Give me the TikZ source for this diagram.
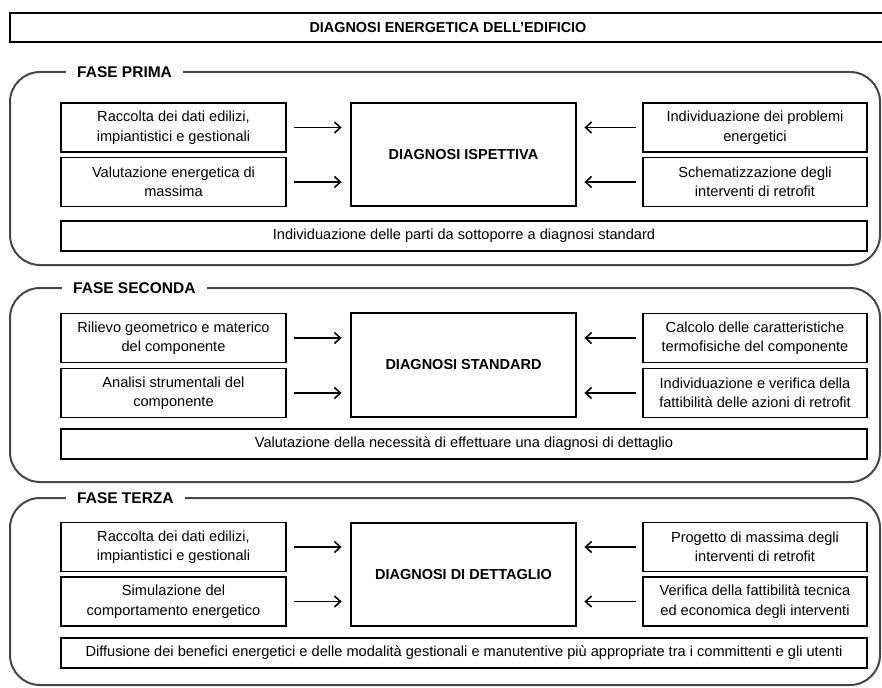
\documentclass[tikz,border=0pt]{standalone}
\usepackage{fontspec}
\setmainfont{Liberation Sans}
\usetikzlibrary{arrows.meta}
\begin{document}
\begin{tikzpicture}[x=1pt,y=-1pt,
  sbox/.style={draw, line width=1.4pt, align=center, inner sep=0pt,
    font=\fontsize{14.6}{19.5}\selectfont},
  lbox/.style={sbox, minimum width=225pt, minimum height=49pt},
  rbox/.style={sbox, minimum width=224pt, minimum height=49pt},
  wbox/.style={sbox, minimum width=806pt, minimum height=30pt},
  cbox/.style={draw, line width=2.8pt, inner sep=0pt, minimum width=225pt,
    minimum height=103pt, font=\fontsize{14.5}{17}\selectfont\bfseries},
  panel/.style={draw=black!72, line width=2pt, rounded corners=30pt},
  plabel/.style={fill=white, anchor=west, inner xsep=11pt, inner ysep=2pt,
    font=\fontsize{15.5}{18}\selectfont\bfseries},
  arr/.style={line width=1.6pt, -{Straight Barb[length=6pt,width=11pt]}},
]
\useasboundingbox (0,0) rectangle (882,687);

% title
\draw[line width=2pt] (10,13) rectangle (892,42);
\node[font=\fontsize{14.4}{17}\selectfont\bfseries] (title) at (448,27.5) {DIAGNOSI ENERGETICA DELL'EDIFICIO};

% ---------------- FASE PRIMA ----------------
\draw[panel] (10,72) rectangle (880,265);
\node[plabel] (p1lab) at (66,72) {FASE PRIMA};
\node[lbox] (p1a) at (173.5,127.5) {Raccolta dei dati edilizi,\\impiantistici e gestionali};
\node[lbox] (p1b) at (173.5,182) {Valutazione energetica di\\massima};
\node[cbox] (p1c) at (463.5,154.5) {DIAGNOSI ISPETTIVA};
\node[rbox] (p1d) at (755,127.5) {Individuazione dei problemi\\energetici};
\node[rbox] (p1e) at (755,182) {Schematizzazione degli\\interventi di retrofit};
\node[wbox] (p1f) at (464,236) {Individuazione delle parti da sottoporre a diagnosi standard};
\draw[arr, shorten <=7pt, shorten >=8pt] (p1a.east) -- (p1a.east -| p1c.west);
\draw[arr, shorten <=7pt, shorten >=8pt] (p1b.east) -- (p1b.east -| p1c.west);
\draw[arr, shorten <=6pt, shorten >=7pt] (p1d.west) -- (p1d.west -| p1c.east);
\draw[arr, shorten <=6pt, shorten >=7pt] (p1e.west) -- (p1e.west -| p1c.east);

% ---------------- FASE SECONDA ----------------
\draw[panel] (10,288) rectangle (880,482);
\node[plabel] (p2lab) at (62,288) {FASE SECONDA};
\node[lbox] (p2a) at (173.5,338) {Rilievo geometrico e materico\\del componente};
\node[lbox] (p2b) at (173.5,393) {Analisi strumentali del\\componente};
\node[cbox, minimum height=104pt] (p2c) at (463.5,365) {DIAGNOSI STANDARD};
\node[rbox] (p2d) at (755,338) {Calcolo delle caratteristiche\\termofisiche del componente};
\node[rbox] (p2e) at (755,393) {Individuazione e verifica della\\fattibilità delle azioni di retrofit};
\node[wbox] (p2f) at (464,444) {Valutazione della necessità di effettuare una diagnosi di dettaglio};
\draw[arr, shorten <=7pt, shorten >=8pt] (p2a.east) -- (p2a.east -| p2c.west);
\draw[arr, shorten <=7pt, shorten >=8pt] (p2b.east) -- (p2b.east -| p2c.west);
\draw[arr, shorten <=6pt, shorten >=7pt] (p2d.west) -- (p2d.west -| p2c.east);
\draw[arr, shorten <=6pt, shorten >=7pt] (p2e.west) -- (p2e.west -| p2c.east);

% ---------------- FASE TERZA ----------------
\draw[panel] (10,498) rectangle (880,685);
\node[plabel] (p3lab) at (66,498) {FASE TERZA};
\node[lbox] (p3a) at (173.5,547) {Raccolta dei dati edilizi,\\impiantistici e gestionali};
\node[lbox] (p3b) at (173.5,601.5) {Simulazione del\\comportamento energetico};
\node[cbox] (p3c) at (463.5,574.5) {DIAGNOSI DI DETTAGLIO};
\node[rbox] (p3d) at (755,547) {Progetto di massima degli\\interventi di retrofit};
\node[rbox] (p3e) at (755,601.5) {Verifica della fattibilità tecnica\\ed economica degli interventi};
\node[wbox] (p3f) at (464,653) {Diffusione dei benefici energetici e delle modalità gestionali e manutentive più appropriate tra i committenti e gli utenti};
\draw[arr, shorten <=7pt, shorten >=8pt] (p3a.east) -- (p3a.east -| p3c.west);
\draw[arr, shorten <=7pt, shorten >=8pt] (p3b.east) -- (p3b.east -| p3c.west);
\draw[arr, shorten <=6pt, shorten >=7pt] (p3d.west) -- (p3d.west -| p3c.east);
\draw[arr, shorten <=6pt, shorten >=7pt] (p3e.west) -- (p3e.west -| p3c.east);
\end{tikzpicture}
\end{document}
